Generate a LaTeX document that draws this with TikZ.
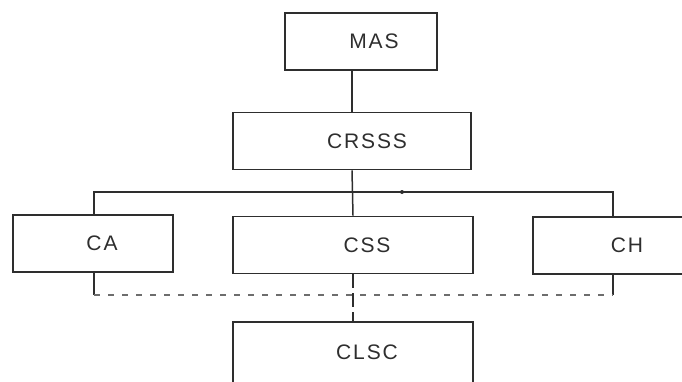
\documentclass[tikz,border=0pt]{standalone}
\usepackage{fontspec}
\setmainfont{Liberation Sans}[LetterSpace=9]
\usepackage{tikz}
\usetikzlibrary{calc,positioning}
\definecolor{ink}{gray}{0.18}
\tikzset{%
	unit/.style  = {draw=ink, line width=1.8pt, rectangle, minimum height=57pt, inner sep=0pt},
	tag/.style   = {font=\fontsize{21}{24}\selectfont, text=ink},
	link/.style  = {draw=ink, line width=1.5pt},
	loose/.style = {draw=ink!70, line width=1.4pt, dash pattern=on 6pt off 8pt},
}
\begin{document}
\begin{tikzpicture}[x=1pt,y=-1pt]
	\useasboundingbox (0,0) rectangle (682,381);
	% boxes
	\node[unit, minimum width=152pt, label={[tag,xshift=13pt]center:MAS}] (mas) at (361,41.5) {};
	\node[unit, minimum width=238pt, label={[tag,xshift=15pt]center:CRSSS}] (crsss) at (352,141) {};
	\node[unit, minimum width=160pt, label={[tag,xshift=9pt]center:CA}] (ca) at (93,243.5) {};
	\node[unit, minimum width=240pt, label={[tag,xshift=14pt]center:CSS}] (css) at (353,245) {};
	\node[unit, minimum width=188pt, label={[tag]center:CH}] (ch) at (627,245.5) {};
	\node[unit, minimum width=240pt, minimum height=66pt, label={[tag,xshift=14pt,yshift=3pt]center:CLSC}] (clsc) at (353,355) {};
	% bus
	\coordinate (busL) at (94,192);
	\coordinate (busR) at (613,192);
	\coordinate (lowL) at (94,295);
	\coordinate (lowR) at (613,295);
	\draw[link] (mas.south -| crsss) -- (crsss.north);
	\draw[link] (crsss.south) -- (css.north);
	\draw[link] (ca.north -| busL) -- (busL) -- (busR) -- (ch.north -| busR);
	\fill[ink] (402,192) circle (2);
	% lower links
	\draw[link] (ca.south -| lowL) -- (lowL);
	\draw[link] (ch.south -| lowR) -- (lowR);
	\draw[loose] (lowL) -- (lowR);
	\draw[link, dash pattern=on 14pt off 5pt] (css.south) -- (clsc.north);
\end{tikzpicture}
\end{document}
